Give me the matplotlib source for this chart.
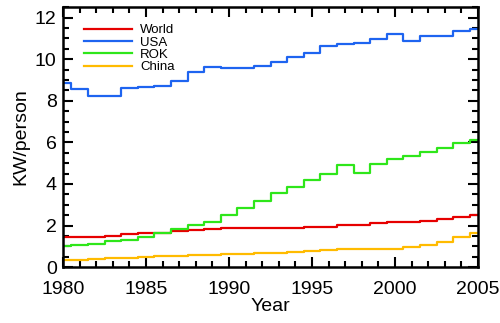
import matplotlib.pyplot as plt
import numpy as np

years = np.arange(1980, 2006)

# KW per person
world = [1.45, 1.46, 1.47, 1.48, 1.57, 1.65, 1.65, 1.75, 1.80, 1.82,
         1.86, 1.87, 1.88, 1.88, 1.88, 1.94, 1.95, 2.02, 2.03, 2.10,
         2.15, 2.17, 2.22, 2.31, 2.41, 2.49]
usa = [8.85, 8.58, 8.22, 8.22, 8.63, 8.65, 8.70, 8.95, 9.38, 9.60,
       9.57, 9.55, 9.68, 9.85, 10.08, 10.30, 10.65, 10.73, 10.79, 10.97,
       11.21, 10.89, 11.10, 11.13, 11.36, 11.44]
rok = [1.03, 1.08, 1.10, 1.27, 1.31, 1.46, 1.65, 1.81, 2.02, 2.18,
       2.51, 2.83, 3.19, 3.56, 3.83, 4.17, 4.48, 4.89, 4.53, 4.98,
       5.18, 5.34, 5.55, 5.74, 5.95, 6.12]
china = [0.32, 0.35, 0.38, 0.42, 0.45, 0.48, 0.52, 0.55, 0.57, 0.60,
         0.62, 0.65, 0.67, 0.69, 0.73, 0.78, 0.83, 0.89, 0.88, 0.88,
         0.88, 0.95, 1.05, 1.21, 1.46, 1.62]

series = [('World', world, '#e60000'),
          ('USA', usa, '#1e64f0'),
          ('ROK', rok, '#2ee61a'),
          ('China', china, '#ffbb00')]

plt.rcParams['font.family'] = ['Liberation Sans', 'DejaVu Sans']

fig = plt.figure(figsize=(5, 3.23), dpi=100)
ax = fig.add_axes([0.126, 0.173, 0.83, 0.805])

for name, vals, col in series:
    ax.step(years, vals, where='mid', color=col, lw=1.6, label=name)

ax.set_xlim(1980, 2005)
ax.set_ylim(0, 12.5)
ax.set_xticks(np.arange(1980, 2006, 5))
ax.set_xticks(np.arange(1980, 2006, 1), minor=True)
ax.set_yticks(np.arange(0, 13, 2))
ax.set_yticks(np.arange(0, 12.6, 0.5), minor=True)
ax.tick_params(which='both', direction='in', top=True, right=True,
               labelsize=14, width=1.5)
ax.tick_params(which='major', length=7)
ax.tick_params(which='minor', length=4)
ax.tick_params(axis='x', which='major', pad=10)
ax.tick_params(axis='y', which='major', pad=4.5)
for sp in ax.spines.values():
    sp.set_linewidth(1.8)

ax.set_xlabel('Year', fontsize=14, labelpad=0)
ax.set_ylabel('KW/person', fontsize=14, labelpad=4)

ax.legend(loc='upper left', frameon=False, fontsize=9.5, handlelength=3.6,
          handletextpad=0.6, labelspacing=0.0, borderaxespad=0.6,
          bbox_to_anchor=(0.02, 0.985))

fig.savefig('out.png', dpi=100)
